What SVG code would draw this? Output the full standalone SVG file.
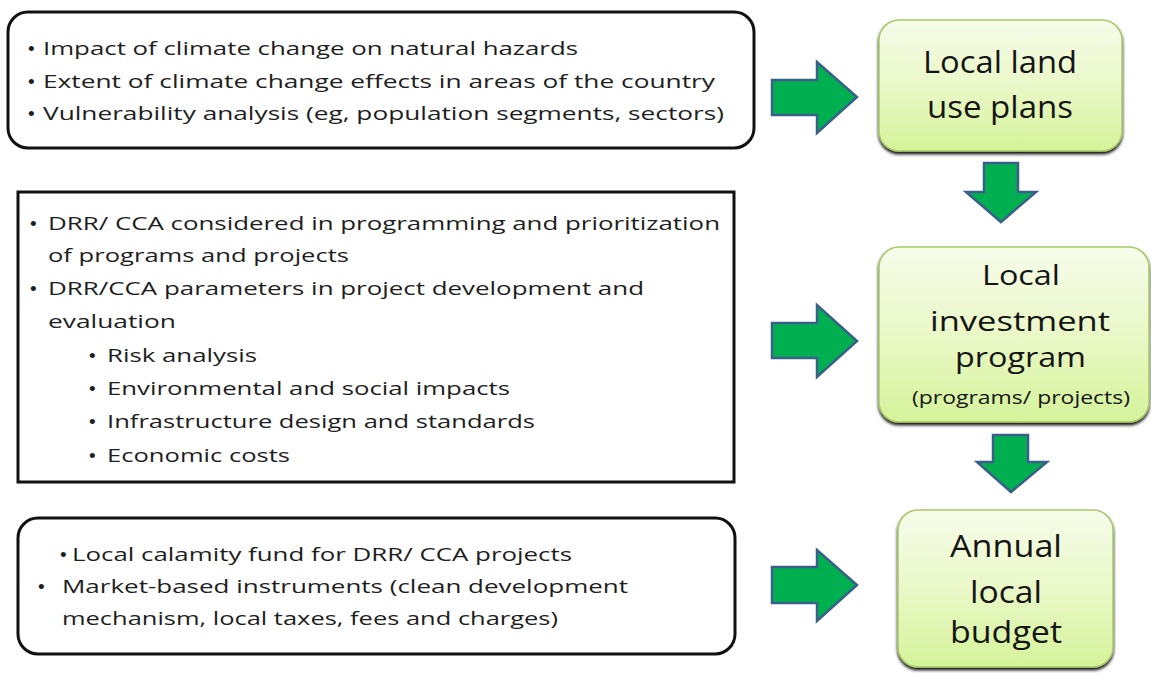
<svg xmlns="http://www.w3.org/2000/svg" width="1151" height="673" viewBox="0 0 1151 673">
<defs>
<linearGradient id="gfill" x1="0" y1="0" x2="0" y2="1">
<stop offset="0" stop-color="#f6fcea"/>
<stop offset="0.5" stop-color="#eaf8c8"/>
<stop offset="1" stop-color="#d5f39a"/>
</linearGradient>
<filter id="shadow" x="-10%" y="-10%" width="120%" height="125%">
<feDropShadow dx="0" dy="2.5" stdDeviation="1.6" flood-color="#000" flood-opacity="0.95"/>
</filter>
<style>
.box{fill:#fff;stroke:#111;stroke-width:3}
.gbox{fill:url(#gfill);stroke:#a8c86a;stroke-width:1.5;filter:url(#shadow)}
.t{font-family:"Open Sans","Noto Sans","Liberation Sans",sans-serif;font-size:19px;fill:#1e1e1e}
.b{font-family:"Liberation Sans",Arial,sans-serif;font-size:19px}
.g{font-family:"Open Sans","Noto Sans","Liberation Sans",sans-serif;font-size:31px;fill:#151515}
.g2{font-family:"Open Sans","Noto Sans","Liberation Sans",sans-serif;font-size:28px;fill:#151515}
.gs{font-family:"Open Sans","Noto Sans","Liberation Sans",sans-serif;font-size:18px;fill:#151515}
.arr{fill:#00b050;stroke:#3a5f8a;stroke-width:2.5;stroke-linejoin:miter}
</style>
</defs>

<g id="box-climate">
<rect class="box" x="8" y="12" width="746" height="136" rx="20"/>
<text class="t"><tspan class="b" x="28" y="55">•</tspan><tspan x="43" y="55" textLength="535" lengthAdjust="spacingAndGlyphs">Impact of climate change on natural hazards</tspan></text>
<text class="t"><tspan class="b" x="28" y="88">•</tspan><tspan x="43" y="88" textLength="672" lengthAdjust="spacingAndGlyphs">Extent of climate change  effects in areas of the country</tspan></text>
<text class="t"><tspan class="b" x="28" y="120">•</tspan><tspan x="43" y="120" textLength="681" lengthAdjust="spacingAndGlyphs">Vulnerability analysis  (eg,  population segments, sectors)</tspan></text>
</g>

<g id="box-drr">
<rect class="box" x="18" y="192" width="716" height="290"/>
<text class="t"><tspan class="b" x="30" y="230">•</tspan><tspan x="48" y="230" textLength="672" lengthAdjust="spacingAndGlyphs">DRR/ CCA considered in programming and prioritization</tspan></text>
<text class="t" x="48" y="262" textLength="301" lengthAdjust="spacingAndGlyphs">of programs and projects</text>
<text class="t"><tspan class="b" x="30" y="295">•</tspan><tspan x="48" y="295" textLength="596" lengthAdjust="spacingAndGlyphs">DRR/CCA parameters in project development and</tspan></text>
<text class="t" x="48" y="328" textLength="128" lengthAdjust="spacingAndGlyphs">evaluation</text>
<text class="t"><tspan class="b" x="89" y="362">•</tspan><tspan x="107" y="362" textLength="150" lengthAdjust="spacingAndGlyphs">Risk analysis</tspan></text>
<text class="t"><tspan class="b" x="89" y="395">•</tspan><tspan x="107" y="395" textLength="403" lengthAdjust="spacingAndGlyphs">Environmental and social impacts</tspan></text>
<text class="t"><tspan class="b" x="89" y="428">•</tspan><tspan x="107" y="428" textLength="428" lengthAdjust="spacingAndGlyphs">Infrastructure design and standards</tspan></text>
<text class="t"><tspan class="b" x="89" y="462">•</tspan><tspan x="107" y="462" textLength="183" lengthAdjust="spacingAndGlyphs">Economic costs</tspan></text>
</g>

<g id="box-finance">
<rect class="box" x="18" y="518" width="717" height="136" rx="20"/>
<text class="t"><tspan class="b" x="60" y="561">•</tspan><tspan x="72" y="561" textLength="500" lengthAdjust="spacingAndGlyphs">Local calamity fund for DRR/ CCA projects</tspan></text>
<text class="t"><tspan class="b" x="38" y="593">•</tspan><tspan x="62" y="593" textLength="566" lengthAdjust="spacingAndGlyphs">Market-based instruments (clean development</tspan></text>
<text class="t" x="62" y="625" textLength="496" lengthAdjust="spacingAndGlyphs">mechanism, local taxes, fees and charges)</text>
</g>

<g id="node-landuse">
<rect class="gbox" x="879" y="20" width="243" height="131" rx="20"/>
<text class="g" x="923" y="73" textLength="154" lengthAdjust="spacingAndGlyphs">Local land</text>
<text class="g" x="927" y="118" textLength="146" lengthAdjust="spacingAndGlyphs">use plans</text>
</g>

<g id="node-investment">
<rect class="gbox" x="879" y="247" width="270" height="175" rx="20"/>
<text class="g2" x="982" y="285" textLength="78" lengthAdjust="spacingAndGlyphs">Local</text>
<text class="g2" x="930" y="331" textLength="180" lengthAdjust="spacingAndGlyphs">investment</text>
<text class="g2" x="955" y="367" textLength="131" lengthAdjust="spacingAndGlyphs">program</text>
<text class="gs" x="912" y="404" textLength="218" lengthAdjust="spacingAndGlyphs">(programs/ projects)</text>
</g>

<g id="node-budget">
<rect class="gbox" x="898" y="510" width="215" height="157" rx="20"/>
<text class="g" x="950" y="557" textLength="112" lengthAdjust="spacingAndGlyphs">Annual</text>
<text class="g" x="970" y="603" textLength="72" lengthAdjust="spacingAndGlyphs">local</text>
<text class="g" x="950" y="643" textLength="112" lengthAdjust="spacingAndGlyphs">budget</text>
</g>

<g id="connectors">
<polygon class="arr" points="772,80 817,80 817,62 857,97 817,133 817,115 772,115"/>
<polygon class="arr" points="772,323 817,323 817,305 857,341 817,377 817,358 772,358"/>
<polygon class="arr" points="772,567 817,567 817,550 857,585 817,621 817,603 772,603"/>
<polygon class="arr" points="984,163 1018,163 1018,192 1036,192 1001,222 966,192 984,192"/>
<polygon class="arr" points="993,435 1028,435 1028,462 1047,462 1011,492 977,462 993,462"/>
</g>
</svg>
